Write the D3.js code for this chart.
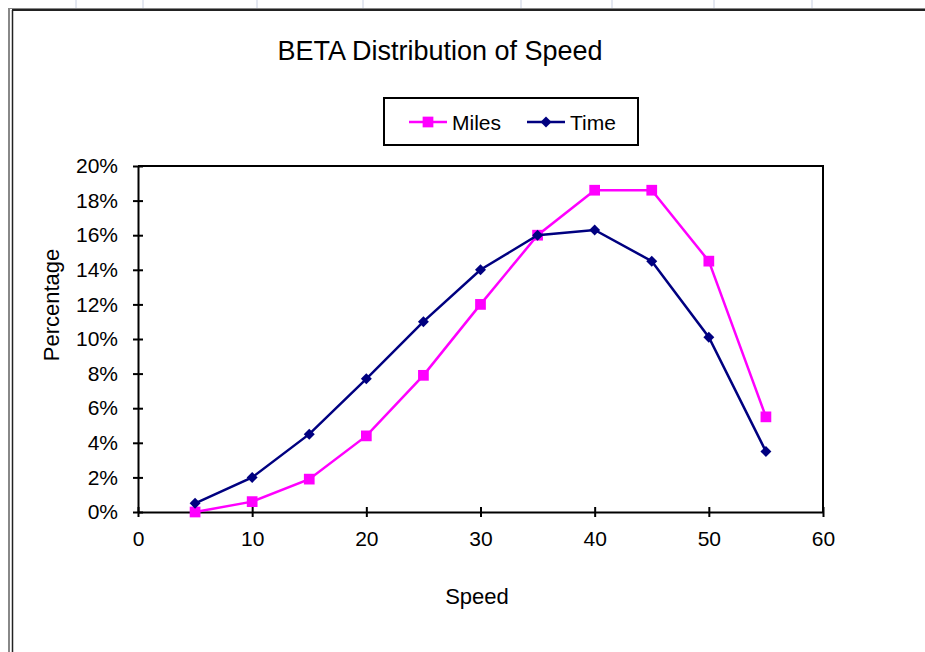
<!DOCTYPE html>
<html>
<head>
<meta charset="utf-8">
<script src="https://cdn.jsdelivr.net/npm/d3@7"></script>
<style>
  body { margin: 0; background: #fff; }
  svg text { font-family: "Liberation Sans", Arial, sans-serif; fill: #000; }
</style>
</head>
<body>
<div id="chart"></div>
<script>
// chart data
var speeds = [5, 10, 15, 20, 25, 30, 35, 40, 45, 50, 55];
var milesPct = [0.0, 0.6, 1.9, 4.4, 7.9, 12.0, 16.0, 18.6, 18.6, 14.5, 5.5];
var timePct = [0.5, 2.0, 4.5, 7.7, 11.0, 14.0, 16.0, 16.3, 14.5, 10.1, 3.5];
var xTicks = [0, 10, 20, 30, 40, 50, 60];
var yTicks = [0, 2, 4, 6, 8, 10, 12, 14, 16, 18, 20];
var sheetCols = [76, 143, 257, 363, 521, 612, 714, 812];

var W = 925, H = 652;
var margin = { top: 166, right: 102, bottom: 140, left: 138 },
    width = W - margin.left - margin.right,
    height = H - margin.top - margin.bottom;

var svg = d3.select("#chart")
    .append("svg")
    .attr("width", W)
    .attr("height", H);

// spreadsheet strip at the top
svg.selectAll("colLine")
    .data(sheetCols)
    .enter()
    .append("line")
    .attr("x1", function (d) { return d; })
    .attr("x2", function (d) { return d; })
    .attr("y1", 0)
    .attr("y2", 8)
    .style("stroke", "#c9d0e2")
    .style("stroke-width", 1);

// chart frame
svg.append("line").attr("x1", 8).attr("x2", W).attr("y1", 8.5).attr("y2", 8.5)
    .style("stroke", "#888").style("stroke-width", 1);
svg.append("line").attr("x1", 12).attr("x2", W).attr("y1", 10).attr("y2", 10)
    .style("stroke", "#222").style("stroke-width", 2);
svg.append("line").attr("x1", 9).attr("x2", 9).attr("y1", 8).attr("y2", H)
    .style("stroke", "#888").style("stroke-width", 2);
svg.append("line").attr("x1", 12.5).attr("x2", 12.5).attr("y1", 10).attr("y2", H)
    .style("stroke", "#222").style("stroke-width", 1.5);

var g = svg.append("g")
    .attr("transform", "translate(" + margin.left + "," + margin.top + ")");

var x = d3.scaleLinear().domain([0, 60]).range([0, width]);
var y = d3.scaleLinear().domain([0, 20]).range([height, 0]);

// plot area border (top and right)
g.append("path")
    .attr("d", "M0,0H" + width + "V" + height)
    .style("fill", "none")
    .style("stroke", "#000")
    .style("stroke-width", 2);

// X axis
var xAxis = g.append("g")
    .attr("transform", "translate(0," + height + ")")
    .call(d3.axisBottom(x).tickValues(xTicks).tickSize(5).tickSizeOuter(0).tickPadding(14));
xAxis.selectAll(".tick line").attr("y1", -5).attr("y2", 5);
xAxis.select(".domain").style("stroke-width", 2);
xAxis.selectAll("line").style("stroke-width", 2);
xAxis.selectAll("text").style("font-size", "21px").style("font-family", "Liberation Sans, Arial, sans-serif");

// Y axis
var yAxis = g.append("g")
    .call(d3.axisLeft(y).tickValues(yTicks).tickSize(5).tickSizeOuter(0).tickPadding(15)
        .tickFormat(function (d) { return d + "%"; }));
yAxis.selectAll(".tick line").attr("x1", 5).attr("x2", -5);
yAxis.select(".domain").style("stroke-width", 2);
yAxis.selectAll("line").style("stroke-width", 2);
yAxis.selectAll("text").style("font-size", "21px").style("font-family", "Liberation Sans, Arial, sans-serif");

var series = [
    { name: "Miles", values: milesPct, color: "#ff00ff", size: 115, rot: 0 },
    { name: "Time", values: timePct, color: "#000080", size: 60, rot: 45 }
];

var line = d3.line()
    .x(function (d, i) { return x(speeds[i]); })
    .y(function (d) { return y(d); });

series.forEach(function (s) {
    g.append("path")
        .datum(s.values)
        .attr("d", line)
        .style("fill", "none")
        .style("stroke", s.color)
        .style("stroke-width", 2.5);

    g.append("g")
        .selectAll("dot")
        .data(s.values)
        .enter()
        .append("path")
        .attr("transform", function (d, i) {
            return "translate(" + x(speeds[i]) + "," + y(d) + ") rotate(" + s.rot + ")";
        })
        .attr("d", d3.symbol().type(d3.symbolSquare).size(s.size))
        .style("fill", s.color);
});

// title
svg.append("text")
    .attr("x", 440)
    .attr("y", 60)
    .attr("text-anchor", "middle")
    .style("font-size", "27px")
    .text("BETA Distribution of Speed");

// axis titles
svg.append("text")
    .attr("x", 477)
    .attr("y", 604)
    .attr("text-anchor", "middle")
    .style("font-size", "22px")
    .text("Speed");

svg.append("text")
    .attr("transform", "translate(59,305) rotate(-90)")
    .attr("text-anchor", "middle")
    .style("font-size", "22px")
    .text("Percentage");

// legend
var legend = svg.append("g").attr("transform", "translate(384,98)");
legend.append("rect")
    .attr("width", 254)
    .attr("height", 47)
    .style("fill", "#fff")
    .style("stroke", "#000")
    .style("stroke-width", 2);

var legendX = [409, 527];
series.forEach(function (s, i) {
    var lg = legend.append("g").attr("transform", "translate(" + (legendX[i] - 384) + ",24)");
    lg.append("line")
        .attr("x1", 0).attr("x2", 38)
        .style("stroke", s.color)
        .style("stroke-width", 2.5);
    lg.append("path")
        .attr("transform", "translate(19,0) rotate(" + s.rot + ")")
        .attr("d", d3.symbol().type(d3.symbolSquare).size(s.size))
        .style("fill", s.color);
    lg.append("text")
        .attr("x", 43)
        .attr("y", 8)
        .style("font-size", "21px")
        .text(s.name);
});
</script>
</body>
</html>
